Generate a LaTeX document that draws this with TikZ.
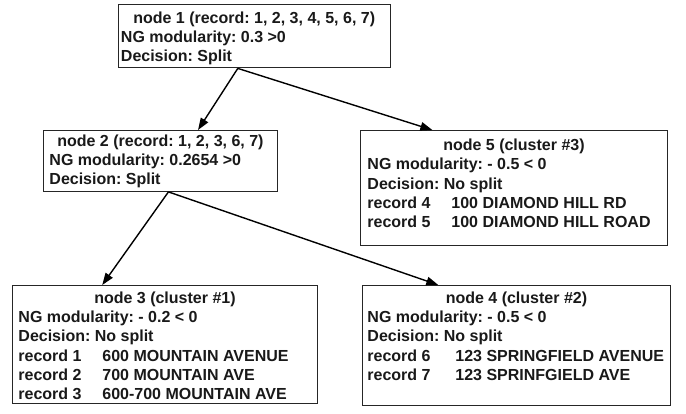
\documentclass[tikz,border=0pt]{standalone}
\usepackage{fontspec}
\setmainfont{Liberation Sans}
\usetikzlibrary{arrows.meta,calc}
\frenchspacing

% one text row, indented by the current panel padding
\newcommand\rowline[1]{\hbox{\hspace*{\padx}#1}}
% a record row: label column, then the address
\newcommand\recrow[2]{\rowline{\makebox[\colw][l]{#1}#2}}
% panel body: width, height, first baseline, left padding, centred title, rows
\newcommand\panel[6]{%
  \vbox to #2{\hsize=#1\relax
    \def\padx{#4}%
    \baselineskip=19.3pt\lineskiplimit=-30pt
    \hbox to #1{\hfil\rule{0pt}{#3}#5\hfil}%
    #6\vfil}}
\def\colw{84pt}

\tikzset{
  x=1pt, y=-1pt,
  infobox/.style={draw=black!85, line width=0.9pt, inner sep=0pt,
    anchor=north west, font=\fontsize{16}{19.3}\selectfont\bfseries,
    text=black!90},
  link/.style={line width=1.4pt, draw=black,
    -{Triangle[length=12pt,width=8.5pt]}},
}

\begin{document}
\begin{tikzpicture}
\useasboundingbox (0,0) rectangle (686,414);

\node[infobox] (n1) at (117.5,4) {\panel{272.5pt}{63.5pt}{18.7pt}{3pt}
  {node 1 (record: 1, 2, 3, 4, 5, 6, 7)}
  {\rowline{NG modularity: 0.3 >0}
   \rowline{Decision: Split}}};

\node[infobox] (n2) at (43,130) {\panel{234pt}{61pt}{15.7pt}{6pt}
  {node 2 (record: 1, 2, 3, 6, 7)}
  {\rowline{NG modularity: 0.2654 >0}
   \rowline{Decision: Split}}};

\node[infobox] (n5) at (360,130) {\panel{307pt}{115pt}{20pt}{7pt}
  {node 5 (cluster \#3)}
  {\rowline{NG modularity: - 0.5 < 0}
   \rowline{Decision: No split}
   \recrow{record 4}{100 DIAMOND HILL RD}
   \recrow{record 5}{100 DIAMOND HILL ROAD}}};

\node[infobox] (n3) at (12,285) {\panel{305pt}{118pt}{17.7pt}{6pt}
  {node 3 (cluster \#1)}
  {\rowline{NG modularity: - 0.2 < 0}
   \rowline{Decision: No split}
   \recrow{record 1}{600 MOUNTAIN AVENUE}
   \recrow{record 2}{700 MOUNTAIN AVE}
   \recrow{record 3}{600-700 MOUNTAIN AVE}}};

\node[infobox] (n4) at (362,285) {\def\colw{88pt}\panel{308pt}{120pt}{17.7pt}{5pt}
  {node 4 (cluster \#2)}
  {\rowline{NG modularity: - 0.5 < 0}
   \rowline{Decision: No split}
   \recrow{record 6}{123 SPRINGFIELD AVENUE}
   \recrow{record 7}{123 SPRINFGIELD AVE}}};

% attachment points along the box edges
\coordinate (s1) at ($(n1.south west)!0.44!(n1.south east)$);
\coordinate (t2) at ($(n2.north west)!0.66!(n2.north east)$);
\coordinate (t5) at ($(n5.north west)!0.235!(n5.north east)$);
\coordinate (s2) at ($(n2.south west)!0.534!(n2.south east)$);
\coordinate (t3) at ($(n3.north west)!0.295!(n3.north east)$);
\coordinate (t4) at ($(n4.north west)!0.247!(n4.north east)$);

\draw[link] (s1) -- (t2);
\draw[link] (s1) -- (t5);
\draw[link] (s2) -- (t3);
\draw[link] (s2) -- (t4);
\end{tikzpicture}
\end{document}
